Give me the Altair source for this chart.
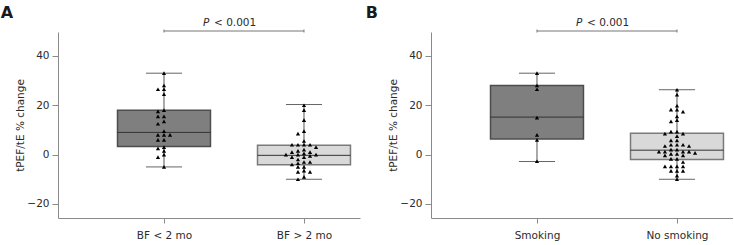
import altair as alt
import pandas as pd

# ---------------- data ----------------
cats_a = ["BF < 2 mo", "BF > 2 mo"]
cats_b = ["Smoking", "No smoking"]

a1_vals = [33, 28, 26.5, 26.5, 24.5, 18, 17.5, 15.5, 15.5, 13.5, 12.5, 9.5, 8, 8, 8,
           6, 6, 3, 2.5, 1.5, 0, -1, -5]
a2_vals = [20, 18, 14, 9.5, 8.5, 5.5, 4, 4, 4, 4, 3, 2, 1.5, 1, 1, 0.5, 0, 0, 0, -0.5,
           -1, -1, -2, -3, -3, -3.5, -4, -5, -5, -6.5, -7, -7, -9, -10]
b1_vals = [33, 28, 26.5, 15, 8, 6, -2.7]
b2_vals = [26.3, 24.3, 19.8, 18.2, 18.2, 17.4, 15.5, 14, 13.5, 9.3, 9.3, 8.5, 8.5, 7.5,
           5.8, 5.8, 4, 4, 4, 3.5, 3.5, 2, 2, 1.2, 1.2, 1.2, 1.2, 0.7, 0.3, 0.3, -0.3,
           -0.3, -1.7, -1.7, -3, -4.8, -4.8, -4.8, -4.8, -6.6, -6.6, -6.6, -8.5, -10]

a_min = [-5, -10]
a_q1 = [3.3, -4.1]
a_med = [9, -0.3]
a_q3 = [18, 3.8]
a_max = [33, 20.3]

b_min = [-2.8, -10]
b_q1 = [6.3, -2]
b_med = [15.2, 1.8]
b_q3 = [28, 8.7]
b_max = [33, 26.3]

p_text = "< 0.001"
y_ticks = [-20, 0, 20, 40]

# ---------------- styling ----------------
FONT = "DejaVu Sans"
TXT = "#2b2b2b"
AX = "#8a8a8a"
BOX_FILLS = ["#7f7f7f", "#d9d9d9"]
BOX_STROKES = ["#4d4d4d", "#7a7a7a"]
XDOM = [0.243, 2.4]
YDOM = [-25.7, 49.7]
HALF_BOX = 0.332
HALF_CAP = 0.129
COL_STEP = 0.043


def swarm(vals, tol=1.4):
    placed = []
    offs = []
    order = [0, -1, 1, -2, 2, -3, 3, -4, 4, -5, 5]
    for v in vals:
        for k in order:
            if all(not (abs(v - pv) < tol and pk == k) for pv, pk in placed):
                break
        placed.append((v, k))
        offs.append(k)
    return offs


def panel(cats, groups, mins, q1s, meds, q3s, maxs, letter, letter_dx):
    pos = [1, 2]
    box = pd.DataFrame({
        "x": pos, "lo": q1s, "hi": q3s, "med": meds, "mn": mins, "mx": maxs,
        "fill": BOX_FILLS, "stroke": BOX_STROKES,
    })
    box["x1"] = box["x"] - HALF_BOX
    box["x2"] = box["x"] + HALF_BOX
    box["c1"] = box["x"] - HALF_CAP
    box["c2"] = box["x"] + HALF_CAP

    rows = []
    for p, vals in zip(pos, groups):
        for v, k in zip(vals, swarm(vals)):
            rows.append({"x": p + k * COL_STEP, "v": v})
    pts = pd.DataFrame(rows)

    label_expr = f"datum.value == 1 ? '{cats[0]}' : '{cats[1]}'"
    xscale = alt.Scale(domain=XDOM, nice=False, zero=False)
    yscale = alt.Scale(domain=YDOM, nice=False, zero=False)
    xaxis = alt.Axis(values=[1, 2], labelExpr=label_expr, title=None, grid=False,
                     tickSize=5, labelPadding=7, domainColor=AX, tickColor=AX,
                     labelColor=TXT, labelFont=FONT, labelFontSize=10.5)
    yaxis = alt.Axis(values=y_ticks, title="tPEF/tE % change", grid=False,
                     tickSize=6, labelPadding=3, titlePadding=1,
                     domainColor=AX, tickColor=AX, labelColor=TXT, titleColor=TXT,
                     labelFont=FONT, titleFont=FONT, labelFontSize=10.5,
                     titleFontSize=10.5, titleFontWeight="normal")

    base = alt.Chart(box)
    whisk = base.mark_rule(color="#555555", strokeWidth=1).encode(
        x=alt.X("x:Q", scale=xscale, axis=xaxis),
        y=alt.Y("mn:Q", scale=yscale, axis=yaxis),
        y2="mx:Q",
    )
    rect = base.mark_rect(strokeWidth=1.5).encode(
        x="x1:Q", x2="x2:Q", y="lo:Q", y2="hi:Q",
        fill=alt.Fill("fill:N", scale=None),
        stroke=alt.Stroke("stroke:N", scale=None),
    )
    med = base.mark_rule(color="#333333", strokeWidth=1).encode(
        x="x1:Q", x2="x2:Q", y="med:Q")
    cap_lo = base.mark_rule(color="#666666", strokeWidth=1).encode(
        x="c1:Q", x2="c2:Q", y="mn:Q")
    cap_hi = base.mark_rule(color="#666666", strokeWidth=1).encode(
        x="c1:Q", x2="c2:Q", y="mx:Q")
    dots = alt.Chart(pts).mark_point(shape="triangle-up", filled=True, color="black",
                                     size=18, opacity=1).encode(x="x:Q", y="v:Q")

    br = pd.DataFrame({"x1": [1], "x2": [2], "y": [50.1], "ylo": [49.5], "yhi": [50.7],
                       "xm": [1.5], "yt": [52.2]})
    bbase = alt.Chart(br)
    bracket = bbase.mark_rule(color="#777777", strokeWidth=1).encode(
        x="x1:Q", x2="x2:Q", y="y:Q")
    tick1 = bbase.mark_rule(color="#777777", strokeWidth=1).encode(
        x="x1:Q", y="ylo:Q", y2="yhi:Q")
    tick2 = bbase.mark_rule(color="#777777", strokeWidth=1).encode(
        x="x2:Q", y="ylo:Q", y2="yhi:Q")
    ptxt = bbase.mark_text(text="P", fontStyle="italic", font=FONT, fontSize=10.5,
                           color=TXT, align="left", baseline="alphabetic", dx=-31).encode(
        x="xm:Q", y="yt:Q")
    rtxt = bbase.mark_text(text=p_text, font=FONT, fontSize=10.5, color=TXT,
                           align="left", baseline="alphabetic", dx=-20).encode(
        x="xm:Q", y="yt:Q")

    return alt.layer(whisk, rect, med, cap_lo, cap_hi, dots, bracket, tick1, tick2,
                     ptxt, rtxt).properties(
        width=302, height=186,
        title=alt.TitleParams(letter, anchor="start", font=FONT, fontSize=16,
                              fontWeight="bold", color="#1a1a1a", offset=-3,
                              dx=letter_dx),
    )


pa = panel(cats_a, [a1_vals, a2_vals], a_min, a_q1, a_med, a_q3, a_max, "A", -15)
pb = panel(cats_b, [b1_vals, b2_vals], b_min, b_q1, b_med, b_q3, b_max, "B", -23)

chart = alt.hconcat(pa, pb, spacing=5).properties(
    padding={"left": 0, "top": 4, "right": 0, "bottom": 0}
).configure_view(stroke=None).configure_concat(spacing=5)

chart.save("out.html", embed_options={"renderer": "svg", "actions": False})
